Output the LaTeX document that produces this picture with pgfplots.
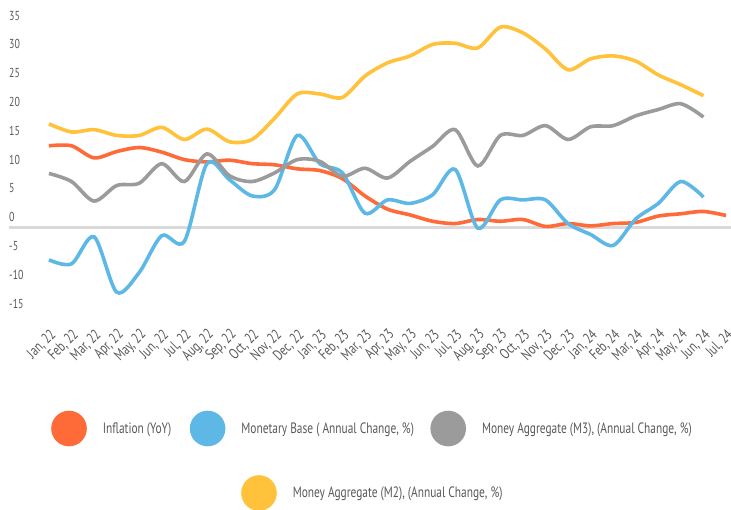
\documentclass[border=0pt]{standalone}
\usepackage{pgfplots}
\pgfplotsset{compat=1.18}
\usepackage{fontspec}
\setmainfont{PT Sans}[FakeStretch=0.76]
\definecolor{cInfl}{HTML}{FF6A39}
\definecolor{cBase}{HTML}{5DB8E6}
\definecolor{cMthree}{HTML}{9B9B9B}
\definecolor{cMtwo}{HTML}{FFC23A}
\definecolor{txt}{HTML}{595959}
\definecolor{zeroline}{HTML}{D9D9D9}

\begin{document}
\begin{tikzpicture}
\begin{axis}[
    at={(9pt,-313.4pt)}, anchor=south west,
    scale only axis, width=722pt, height=288pt,
    xmin=-1.77, xmax=30.22, ymin=-15, ymax=35,
    clip=false,
    axis line style={draw=none},
    tick style={draw=none},
    ytick={-15,-10,...,35},
    /pgf/number format/assume math mode=true,
    yticklabel style={anchor=south west, inner sep=0pt, yshift=5pt,
        font=\fontsize{13}{13}\selectfont, text=txt},
    extra y ticks={0}, extra y tick labels={},
    extra y tick style={grid=major, major grid style={line width=3pt, color=zeroline}},
    xtick={0,...,30},
    xticklabels={{Jan, 22},{Feb, 22},{Mar, 22},{Apr, 22},{May, 22},{Jun, 22},{Jul, 22},{Aug, 22},{Sep, 22},{Oct, 22},{Nov, 22},{Dec, 22},
                 {Jan, 23},{Feb, 23},{Mar, 23},{Apr, 23},{May, 23},{Jun, 23},{Jul, 23},{Aug, 23},{Sep, 23},{Oct, 23},{Nov, 23},{Dec, 23},
                 {Jan, 24},{Feb, 24},{Mar, 24},{Apr, 24},{May, 24},{Jun, 24},{Jul, 24}},
    xticklabel style={rotate=45, anchor=east, inner sep=0pt, xshift=-10.2pt, yshift=-16.8pt,
        font=\fontsize{15}{15}\selectfont, text=txt},
    every axis plot/.append style={line width=3.6pt, smooth},
    legend columns=3,
    legend image code/.code={\fill[#1] (16pt,0pt) circle (16pt); \path (0pt,0pt) (48pt,0pt);},
    legend cell align=left,
    legend style={at={(axis description cs:0.0582,-0.3997)}, anchor=west, draw=none, fill=none,
        inner sep=0pt, column sep=0pt, nodes={inner sep=0pt},
        font=\fontsize{15}{15}\selectfont, text=txt},
]
\addplot[cInfl] coordinates {
(0,14.1) (1,14.1) (2,12.0) (3,13.1) (4,13.8) (5,13.0) (6,11.7) (7,11.3) (8,11.6) (9,11.0)
(10,10.8) (11,10.1) (12,9.8) (13,8.4) (14,5.4) (15,3.1) (16,2.1) (17,1.0) (18,0.6) (19,1.3)
(20,1.0) (21,1.3) (22,0.1) (23,0.6) (24,0.2) (25,0.6) (26,0.8) (27,1.9) (28,2.3) (29,2.7) (30,2.0)};
\addlegendentry{\makebox[87pt][l]{Inflation (YoY)}}
\addplot[cBase] coordinates {
(0,-5.7) (1,-6.4) (2,-1.7) (3,-11.3) (4,-7.9) (5,-1.5) (6,-2.5) (7,11.0) (8,8.2) (9,5.4)
(10,6.5) (11,15.9) (12,11.0) (13,9.4) (14,2.4) (15,4.7) (16,4.1) (17,5.6) (18,10.0) (19,-0.2)
(20,4.7) (21,4.7) (22,4.7) (23,0.6) (24,-1.3) (25,-3.2) (26,1.4) (27,4.1) (28,7.9) (29,5.2)};
\addlegendentry{\makebox[189pt][l]{Monetary Base ( Annual Change, \%)}}
\addplot[cMthree] coordinates {
(0,9.3) (1,7.9) (2,4.5) (3,7.2) (4,7.6) (5,11.0) (6,7.9) (7,12.7) (8,8.9) (9,7.9)
(10,9.4) (11,11.7) (12,11.4) (13,8.8) (14,10.2) (15,8.5) (16,11.4) (17,14.0) (18,16.9) (19,10.6)
(20,15.9) (21,15.9) (22,17.6) (23,15.2) (24,17.4) (25,17.6) (26,19.3) (27,20.4) (28,21.4) (29,19.1)};
\addlegendentry{Money Aggregate (M3), (Annual Change, \%)}
\addplot[cMtwo] coordinates {
(0,17.9) (1,16.5) (2,16.9) (3,15.9) (4,15.9) (5,17.3) (6,15.2) (7,17.0) (8,14.8) (9,15.2)
(10,18.9) (11,23.1) (12,23.1) (13,22.5) (14,26.2) (15,28.5) (16,29.7) (17,31.7) (18,31.9) (19,31.1)
(20,34.7) (21,33.7) (22,30.9) (23,27.3) (24,29.2) (25,29.7) (26,28.8) (27,26.4) (28,24.7) (29,22.8)};
\end{axis}
\begin{axis}[
    at={(9pt,-313.4pt)}, anchor=south west,
    scale only axis, width=722pt, height=288pt,
    xmin=0, xmax=1, ymin=0, ymax=1, hide axis,
    legend image code/.code={\fill[#1] (16pt,0pt) circle (16pt); \path (0pt,0pt) (48pt,0pt);},
    legend cell align=left,
    legend style={at={(axis description cs:0.3213,-0.6236)}, anchor=west, draw=none, fill=none,
        inner sep=0pt, column sep=0pt, nodes={inner sep=0pt},
        font=\fontsize{15}{15}\selectfont, text=txt},
]
\addlegendimage{color=cMtwo, line width=3.6pt}
\addlegendentry{Money Aggregate (M2), (Annual Change, \%)}
\end{axis}
\pgfresetboundingbox
\path (0pt,0pt) rectangle (731pt,-509pt);
\end{tikzpicture}
\end{document}
